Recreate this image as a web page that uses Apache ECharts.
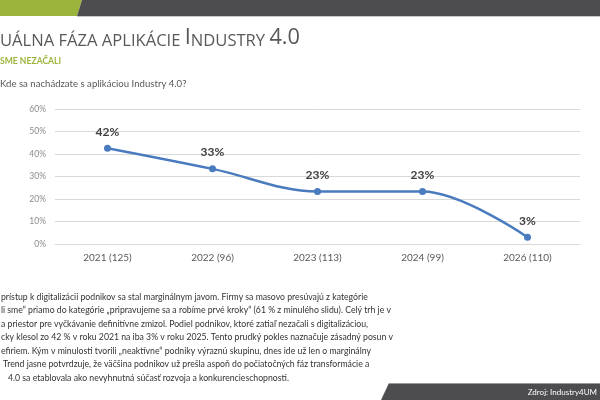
<!DOCTYPE html>
<html>
<head>
<meta charset="utf-8">
<script src="https://cdn.jsdelivr.net/npm/echarts@6/dist/echarts.min.js"></script>
<style>
    html, body { margin: 0; padding: 0; background: #fff; }
    #chart { width: 600px; height: 400px; }
</style>
</head>
<body>
<div id="chart"></div>
<script>
//údaje z grafu
var categories = ['2021 (125)', '2022 (96)', '2023 (113)', '2024 (99)', '2026 (110)'];
var values = [42.6, 33.4, 23.3, 23.3, 3.0];
var valueLabels = ['42%', '33%', '23%', '23%', '3%'];
var yTicks = [0, 10, 20, 30, 40, 50, 60];

//texty snímky
var titleParts = ['UÁLNA FÁZA APLIKÁCIE ', 'I', 'NDUSTRY ', '4.0'];
var subtitle = 'SME NEZAČALI';
var question = 'Kde sa nachádzate s aplikáciou Industry 4.0?';
var bodyLines = [
    'prístup k digitalizácii podnikov sa stal marginálnym javom. Firmy sa masovo presúvajú z kategórie',
    'li sme\u201c priamo do kategórie \u201epripravujeme sa a robíme prvé kroky\u201c (61 % z minulého slidu). Celý trh je v',
    'a priestor pre vyčkávanie definitívne zmizol. Podiel podnikov, ktoré zatiaľ nezačali s digitalizáciou,',
    'cky klesol zo 42 % v roku 2021 na iba 3% v roku 2025. Tento prudký pokles naznačuje zásadný posun v',
    'efiriem. Kým v minulosti tvorili \u201eneaktívne\u201c podniky výraznú skupinu, dnes ide už len o marginálny',
    'Trend jasne potvrdzuje, že väčšina podnikov už prešla aspoň do počiatočných fáz transformácie a',
    '4.0 sa etablovala ako nevyhnutná súčasť rozvoja a konkurencieschopnosti.'
];
var source = 'Zdroj: Industry4UM';

(function () {
    var font = 'Lato, "Open Sans", sans-serif';
    var titleFont = '"Open Sans", sans-serif';
    var myChart = echarts.init(document.getElementById('chart'));

    //meranie šírky textu kvôli skladaniu nadpisu (kapitálky)
    var ctx = document.createElement('canvas').getContext('2d');
    function textWidth(str, f) {
        ctx.font = f;
        return ctx.measureText(str).width;
    }
    var smallFont = '16px ' + titleFont;
    var bigFont = '21px ' + titleFont;
    var titleChildren = [];
    var cursor = 0;
    titleParts.forEach(function (part, i) {
        var f = (i % 2 === 0) ? smallFont : bigFont;
        titleChildren.push({
            type: 'text', x: cursor, y: 0,
            style: { text: part.toUpperCase(), font: f, fill: '#595959', textVerticalAlign: 'bottom' }
        });
        cursor += textWidth(part, f);
    });
    var titleScale = 300 / cursor;

    //grafické prvky snímky (pruhy, nadpisy, text)
    var graphic = [
        { type: 'polygon', shape: { points: [[0, 0], [82, 0], [77, 16], [0, 16]] }, style: { fill: '#9bb53c' } },
        { type: 'polygon', shape: { points: [[82, 0], [600, 0], [600, 16], [77, 16]] }, style: { fill: '#4d4d4f' } },
        { type: 'rect', shape: { x: 77, y: 16, width: 523, height: 1 }, style: { fill: '#c8c8c8' } },
        { type: 'polygon', shape: { points: [[389, 383], [600, 383], [600, 400], [381, 400]] }, style: { fill: '#4d4d4f' } },
        { type: 'rect', shape: { x: 389, y: 383, width: 211, height: 1 }, style: { fill: '#9a9a9a' } },
        {
            type: 'text', x: 597, y: 392,
            style: { text: source, font: '8px ' + font, fill: '#ffffff', textAlign: 'right', textVerticalAlign: 'middle' }
        },
        { type: 'group', x: 0, y: 49, scaleX: titleScale, children: titleChildren },
        {
            type: 'text', x: 0, y: 61.5,
            style: { text: subtitle, font: 'bold 8.6px ' + font, fill: '#9bb53c', textVerticalAlign: 'middle' }
        },
        {
            type: 'text', x: 0, y: 84,
            style: { text: question, font: '9.6px ' + font, fill: '#595959', textVerticalAlign: 'middle' }
        }
    ];
    bodyLines.forEach(function (line, i) {
        graphic.push({
            type: 'text', x: i === 6 ? 8 : (i === 5 ? 3 : 1), y: 297 + i * 13.5,
            style: { text: line, font: '8.7px ' + font, fill: '#333333', textVerticalAlign: 'middle' }
        });
    });

    var option = {
        animation: false,
        backgroundColor: '#fff',
        graphic: graphic,
        grid: { left: 55, right: 20, top: 109, bottom: 156 },
        xAxis: {
            type: 'category',
            data: categories,
            boundaryGap: true,
            axisLine: { lineStyle: { color: '#d9d9d9' } },
            axisTick: { show: false },
            axisLabel: { color: '#595959', fontSize: 10, fontFamily: font, margin: 9 }
        },
        yAxis: {
            type: 'value',
            min: yTicks[0],
            max: yTicks[yTicks.length - 1],
            interval: 10,
            axisLine: { show: false },
            axisTick: { show: false },
            splitLine: { lineStyle: { color: '#d9d9d9' } },
            axisLabel: { color: '#8c8c8c', fontSize: 8.5, fontFamily: font, margin: 9, formatter: '{value}%' }
        },
        series: [{
            type: 'line',
            data: values,
            smooth: 0.35,
            symbol: 'circle',
            symbolSize: 7,
            itemStyle: { color: '#4a7bbf' },
            lineStyle: { color: '#4a7bbf', width: 2.5 },
            label: {
                show: true,
                position: 'top',
                distance: 7,
                color: '#404040',
                fontSize: 12,
                fontWeight: 'bold',
                fontFamily: font,
                formatter: function (p) { return valueLabels[p.dataIndex]; }
            }
        }]
    };
    myChart.setOption(option);
})();
</script>
</body>
</html>
